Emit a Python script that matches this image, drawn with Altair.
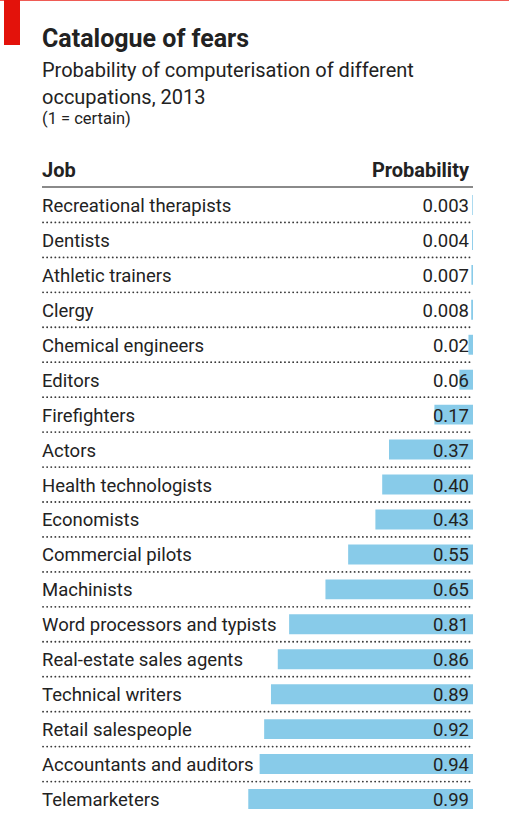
import altair as alt
import pandas as pd

jobs = [
    "Recreational therapists", "Dentists", "Athletic trainers", "Clergy",
    "Chemical engineers", "Editors", "Firefighters", "Actors",
    "Health technologists", "Economists", "Commercial pilots", "Machinists",
    "Word processors and typists", "Real-estate sales agents",
    "Technical writers", "Retail salespeople", "Accountants and auditors",
    "Telemarketers",
]
probabilities = [0.003, 0.004, 0.007, 0.008, 0.02, 0.06, 0.17, 0.37, 0.40,
                 0.43, 0.55, 0.65, 0.81, 0.86, 0.89, 0.92, 0.94, 0.99]
prob_labels = ["0.003", "0.004", "0.007", "0.008", "0.02", "0.06", "0.17",
               "0.37", "0.40", "0.43", "0.55", "0.65", "0.81", "0.86", "0.89",
               "0.92", "0.94", "0.99"]

title_text = "Catalogue of fears"
subtitle_lines = ["Probability of computerisation of different", "occupations, 2013"]
note_text = "(1 = certain)"
col_headers = ["Job", "Probability"]

FONT = "Roboto"
TEXT = "#222222"
BAR = "#88cbe9"

df = pd.DataFrame({"job": jobs, "p": probabilities, "label": prob_labels})

W, H = 431, 627
yscale = alt.Scale(domain=jobs, range=[0.5, 629.5], paddingInner=0.43, paddingOuter=0.215)
xscale = alt.Scale(domain=[0, 1], range=[W, W - 227])

Y = alt.Y("job:N", sort=jobs, scale=yscale, axis=None)

bars = alt.Chart(df).mark_bar(color=BAR).encode(
    y=Y,
    x=alt.X("p:Q", scale=xscale, axis=None),
    x2=alt.datum(0),
)

dots = alt.Chart(df).transform_filter(
    alt.datum.job != jobs[-1]
).mark_rule(color="#3a3a3a", strokeWidth=1.8, strokeCap="round",
            strokeDash=[0.1, 4], yOffset=7.5).encode(
    y=alt.Y("job:N", sort=jobs, scale=yscale, axis=None, bandPosition=1),
    x=alt.value(1),
    x2=alt.value(W),
)

job_text = alt.Chart(df).mark_text(
    align="left", baseline="alphabetic", dy=7, font=FONT, fontSize=18.5, color=TEXT
).encode(y=Y, x=alt.value(0), text="job:N")

val_text = alt.Chart(df).mark_text(
    align="right", baseline="alphabetic", dy=7, font=FONT, fontSize=18.5, color=TEXT
).encode(y=Y, x=alt.value(W - 4), text="label:N")

def one_text(txt, x, y, size, weight="normal", align="left", color=TEXT):
    return alt.Chart(pd.DataFrame({"t": [txt]})).mark_text(
        align=align, baseline="alphabetic", font=FONT, fontSize=size,
        fontWeight=weight, color=color
    ).encode(x=alt.value(x), y=alt.value(y), text="t:N")

title = one_text(title_text, 0, -140, 25, "bold")
sub1 = one_text(subtitle_lines[0], 0, -110, 20)
sub2 = one_text(subtitle_lines[1], 0, -83, 20)
note = one_text(note_text, 0, -63, 16.5)
h_job = one_text(col_headers[0], 0, -10, 20, "bold")
h_prob = one_text(col_headers[1], W - 4, -10, 20, "bold", align="right")

one = pd.DataFrame({"k": [0]})
header_line = alt.Chart(one).mark_rule(color="#8a8a8a", strokeWidth=2).encode(
    x=alt.value(0), x2=alt.value(W), y=alt.value(0)
)
red_block = alt.Chart(one).mark_rect(color="#e3120b").encode(
    x=alt.value(-38), x2=alt.value(-22), y=alt.value(-187), y2=alt.value(-142)
)
red_line = alt.Chart(one).mark_rect(color="#ef5b55").encode(
    x=alt.value(-42), x2=alt.value(W + 36), y=alt.value(-187), y2=alt.value(-186)
)

chart = alt.layer(
    bars, dots, job_text, val_text, title, sub1, sub2, note, h_job, h_prob,
    header_line, red_line, red_block
).properties(
    width=W, height=H,
    autosize=alt.AutoSizeParams(type="none"),
    padding={"left": 42, "top": 187, "right": 36, "bottom": 0},
    background="white",
).configure_view(stroke=None)

chart.save("out.html", embed_options={"renderer": "svg", "actions": False})
